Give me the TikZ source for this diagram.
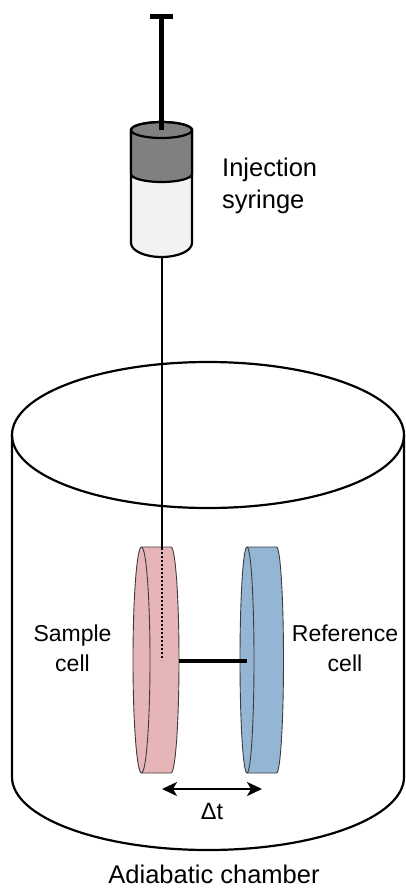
\documentclass[tikz,border=0pt]{standalone}
\usepackage{fontspec}
\setmainfont{Liberation Sans}
\usepackage{xcolor}
\usetikzlibrary{arrows.meta}
\usetikzlibrary{positioning}
\definecolor{samplepink}{RGB}{230,181,183}
\definecolor{refblue}{RGB}{149,181,212}
\definecolor{plungergray}{RGB}{128,128,128}
\definecolor{barrelwhite}{RGB}{242,242,242}
\definecolor{cellline}{RGB}{60,60,60}
\tikzset{
    frameless/.style={
           inner sep=0pt,
           font=\fontsize{25.5}{31.5}\selectfont,
           },
    celltext/.style={
           inner sep=0pt,
           align=center,
           font=\fontsize{23}{30}\selectfont,
           },
    wall/.style={
           draw=black, line width=2.2pt,
           },
    cellbody/.style={
           draw=cellline, line width=0.9pt,
           },
    needle/.style={
           draw=black, line width=2pt,
           },
}

\begin{document}
\begin{tikzpicture}[x=1pt, y=-1pt]
	\useasboundingbox (0,0) rectangle (405,893);

	% chamber
	\draw[wall] (208,435) ellipse[x radius=196, y radius=73];
	\draw[wall] (12,435) -- (12,777) arc[start angle=180, end angle=0, x radius=196, y radius=73] -- (404,435);

	% syringe
	\coordinate (barrel top) at (161.5,130);
	\coordinate (barrel tip) at (161.5,257);
	\filldraw[wall, fill=barrelwhite] (131,130) -- (131,243) arc[start angle=180, end angle=0, x radius=30.5, y radius=14] -- (192,130) -- cycle;
	\filldraw[wall, fill=plungergray] (131,130) -- (131,174) arc[start angle=180, end angle=0, x radius=30.5, y radius=8] -- (192,130) arc[start angle=0, end angle=-180, x radius=30.5, y radius=8] -- cycle;
	\draw[wall] (barrel top) ellipse[x radius=30.5, y radius=8];
	\draw[line width=5pt] (150,17) -- (173,17);
	\draw[line width=5pt] (161.5,15) -- (barrel top);

	\node[frameless, anchor=west, align=left] (syringe) at (222,185.7) {Injection\\syringe};

	% cells
	\coordinate (sample top) at (161.5,548);
	\coordinate (sample back) at (179,661);
	\coordinate (reference front) at (247,661);

	\filldraw[cellbody, fill=samplepink] (141.5,547) -- (171,547) arc[start angle=-90, end angle=90, x radius=8, y radius=113] -- (141.5,773) arc[start angle=90, end angle=270, x radius=8.5, y radius=113] -- cycle;
	\draw[cellbody] (141.5,547) arc[start angle=-90, end angle=90, x radius=8.5, y radius=113];

	\filldraw[cellbody, fill=refblue] (247,547) -- (276.5,547) arc[start angle=-90, end angle=90, x radius=7, y radius=113] -- (247,773) arc[start angle=90, end angle=270, x radius=7, y radius=113] -- cycle;
	\draw[cellbody] (247,547) arc[start angle=-90, end angle=90, x radius=7, y radius=113];

	\draw[needle] (barrel tip) -- (sample top);
	\draw[needle, dash pattern=on 2pt off 2pt] (sample top) -- (161.5,660);
	\draw[line width=4.5pt] (sample back) -- (reference front);

	\node[celltext] (sample) at (72.5,648.5) {Sample\\cell};
	\node[celltext] (reference) at (345,648.5) {Reference\\cell};

	% gap between the cells
	\coordinate (gap left) at (162,789);
	\coordinate (gap right) at (262,789);
	\coordinate (gap mid) at (212,789);
	\draw[line width=2pt, {Stealth[length=15pt, width=14pt, inset=4pt]}-{Stealth[length=15pt, width=14pt, inset=4pt]}] (gap left) -- (gap right);
	\node[frameless, font=\fontsize{23.5}{28}\selectfont, below=14pt of gap mid] (gap) {Δt};

	\node[frameless, anchor=base] (chamber) at (214,883) {Adiabatic chamber};

\end{tikzpicture}
\end{document}
